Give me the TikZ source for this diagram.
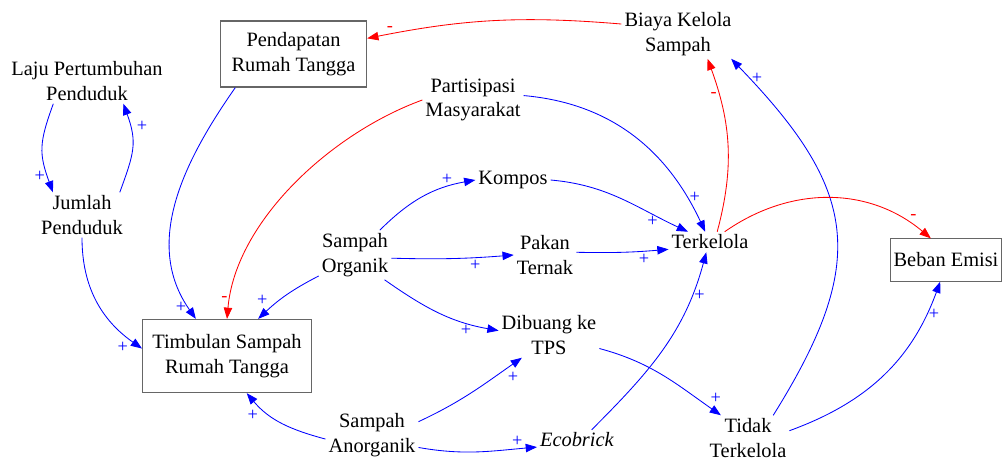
\documentclass[tikz,border=0pt]{standalone}
\usepackage{fontspec}
\setmainfont{Liberation Serif}
\usetikzlibrary{arrows.meta}

\begin{document}
\begin{tikzpicture}[
  x=0.025cm, y=0.025cm,
  font=\fontsize{14.5}{17.7}\selectfont,
  var/.style={align=center, inner sep=2pt},
  stock/.style={draw=black!60, line width=0.8pt, align=center, inner sep=2pt},
  plink/.style={-{Triangle[length=8pt,width=6pt]}, blue, line width=0.6pt},
  nlink/.style={-{Triangle[length=8pt,width=6pt]}, red, line width=0.6pt},
  psign/.style={blue, font=\fontsize{13}{13}\selectfont, inner sep=1.5pt},
  nsign/.style={red, font=\fontsize{13}{13}\selectfont, inner sep=1.5pt},
]
\useasboundingbox (0,0) rectangle (1003,-461);

%% Variables
\node[var] (laju) at (87,-81) {Laju Pertumbuhan\\Penduduk};
\node[var] (jumlah) at (82,-215) {Jumlah\\Penduduk};
\node[stock, minimum width=104pt, minimum height=47pt] (pendapatan) at (293.5,-54) {Pendapatan\\Rumah Tangga};
\node[var] (biaya) at (678,-34) {Biaya Kelola\\Sampah};
\node[var] (partisipasi) at (473,-100) {Partisipasi\\Masyarakat};
\node[var] (kompos) at (513,-180) {Kompos};
\node[var] (terkelola) at (710,-242) {Terkelola};
\node[stock, minimum width=79pt, minimum height=30pt] (emisi) at (946,-260) {Beban Emisi};
\node[var] (organik) at (355,-255) {Sampah\\Organik};
\node[var] (pakan) at (545,-255) {Pakan\\Ternak};
\node[var] (tps) at (549,-335) {Dibuang ke\\TPS};
\node[stock, minimum width=120pt, minimum height=52pt] (timbulan) at (227,-356) {Timbulan Sampah\\Rumah Tangga};
\node[var] (anorganik) at (372,-435) {Sampah\\Anorganik};
\node[var] (ecobrick) at (577,-440) {\textit{Ecobrick}};
\node[var] (tidak) at (748,-438) {Tidak\\Terkelola};

%% Population loop
\draw[plink] (laju.-146) to[out=-110, in=110, looseness=1.2] node[psign, pos=.85, left] {+} (jumlah.142);
\draw[plink] (jumlah.31) to[out=70, in=-70, looseness=1.2] node[psign, pos=.78, right=3pt] {+} (laju.-32);

%% Into Timbulan
\draw[plink] (pendapatan.-150) to[out=-125, in=125] node[psign, pos=.95, left] {+} (timbulan.130);
\draw[plink] (jumlah.south) to[out=-90, in=145] node[psign, pos=.9, below left] {+} (timbulan.175);
\draw[nlink] (partisipasi.west) to[out=200, in=85, looseness=.85] node[nsign, pos=.93, left] {-} (timbulan.north);
\draw[plink] (organik.-150) to[bend right=8] node[psign, pos=.8, above left] {+} (timbulan.50);
\draw[plink] (anorganik.185) to[out=165, in=-50] node[psign, pos=.8, below left] {+} (timbulan.-62);

%% Costs
\draw[nlink] (biaya.170) to[bend right=8] node[nsign, pos=.92, above] {-} (pendapatan.12);
\draw[nlink] (terkelola.55) to[out=75, in=-70] node[nsign, pos=.8, left] {-} (biaya.-40);
\draw[plink] (tidak.42) to[out=58, in=-46, looseness=1.3] node[psign, pos=.95, right] {+} (biaya.-25);

%% Emissions
\draw[nlink] (terkelola.35) to[out=35, in=140] node[nsign, pos=.88, above right] {-} (emisi.125);
\draw[plink] (tidak.10) to[out=20, in=-110] node[psign, pos=.85, right] {+} (emisi.-105);

%% Handling of waste
\draw[plink] (partisipasi.5) to[out=-5, in=115] node[psign, pos=.85, right] {+} (terkelola.115);
\draw[plink] (organik.45) to[out=45, in=190] node[psign, pos=.75, above] {+} (kompos.west);
\draw[plink] (kompos.east) to[out=-5, in=155] node[psign, pos=.75, below] {+} (terkelola.155);
\draw[plink] (organik.-5) to[bend right=3] node[psign, pos=.7, below] {+} (pakan.west);
\draw[plink] (pakan.5) to[bend right=3] node[psign, pos=.75, below] {+} (terkelola.190);
\draw[plink] (organik.-40) to[out=-35, in=170] node[psign, pos=.75, below] {+} (tps.175);
\draw[plink] (anorganik.16) to[out=25, in=-145] node[psign, pos=.85, below right] {+} (tps.-140);
\draw[plink] (anorganik.-15) to[out=-10, in=185] node[psign, pos=.85, above] {+} (ecobrick.190);
\draw[plink] (ecobrick.35) to[out=45, in=-105] node[psign, pos=.8, right] {+} (terkelola.-110);
\draw[plink] (tps.-15) to[out=-15, in=145] node[psign, pos=.9, above right] {+} (tidak.140);

\end{tikzpicture}
\end{document}
